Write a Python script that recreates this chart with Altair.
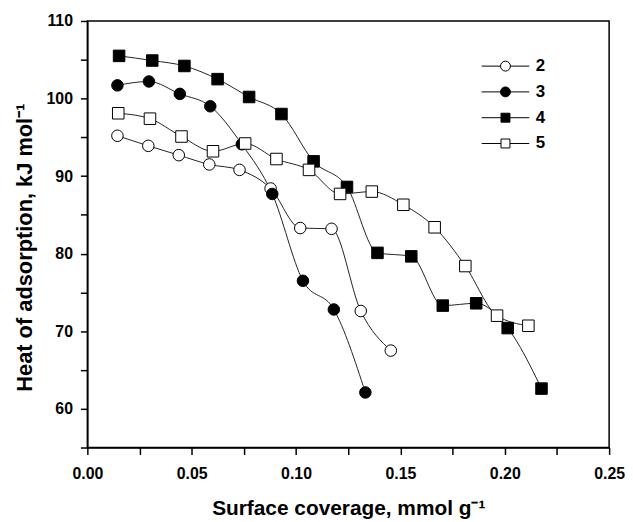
import altair as alt
import pandas as pd

# Series values
x2 = [0.0144, 0.0292, 0.0438, 0.0584, 0.0729, 0.0878, 0.1020, 0.1170, 0.1310, 0.1454]
y2 = [95.2, 93.9, 92.7, 91.5, 90.8, 88.4, 83.3, 83.2, 72.6, 67.5]

x3 = [0.0144, 0.0295, 0.0443, 0.0589, 0.0740, 0.0886, 0.1033, 0.1181, 0.1332]
y3 = [101.7, 102.2, 100.6, 99.0, 94.1, 87.7, 76.5, 72.8, 62.1]

x4 = [0.0152, 0.0311, 0.0465, 0.0624, 0.0775, 0.0930, 0.1084, 0.1244, 0.1390, 0.1552,
      0.1703, 0.1863, 0.2014, 0.2176]
y4 = [105.5, 104.9, 104.2, 102.5, 100.2, 98.0, 91.9, 88.6, 80.1, 79.65,
      73.3, 73.6, 70.4, 62.6]

x5 = [0.0148, 0.0300, 0.0451, 0.0602, 0.0756, 0.0906, 0.1062, 0.1211, 0.1363, 0.1514,
      0.1664, 0.1811, 0.1963, 0.2113]
y5 = [98.1, 97.4, 95.1, 93.2, 94.2, 92.2, 90.8, 87.7, 88.0, 86.3,
      83.4, 78.4, 72.0, 70.7]

series_names = ["2", "3", "4", "5"]
series_shapes = ["circle", "circle", "square", "square"]
series_fills = ["white", "black", "black", "white"]

x_ticks = [0.0, 0.025, 0.05, 0.075, 0.10, 0.125, 0.15, 0.175, 0.20, 0.225, 0.25]
y_ticks = [55, 60, 65, 70, 75, 80, 85, 90, 95, 100, 105, 110]

rows = []
for name, xs, ys in zip(series_names, [x2, x3, x4, x5], [y2, y3, y4, y5]):
    for i, (a, b) in enumerate(zip(xs, ys)):
        rows.append({"series": name, "x": a, "y": b, "order": i})
df = pd.DataFrame(rows)

FONT = "Liberation Sans"

x_enc = alt.X(
    "x:Q",
    scale=alt.Scale(domain=[0, 0.25], nice=False, zero=False),
    axis=alt.Axis(
        title="Surface coverage, mmol g\u207b\u00b9",
        values=x_ticks,
        labelExpr="round(datum.value*1000) % 50 == 0 ? format(datum.value, '.2f') : ''",
        grid=False,
        tickSize=7,
        labelPadding=11,
        labelFlush=False,
        titlePadding=17,
        titleFontSize=21,
    ),
)
y_enc = alt.Y(
    "y:Q",
    scale=alt.Scale(domain=[55, 110], nice=False, zero=False),
    axis=alt.Axis(
        title="Heat of adsorption, kJ mol\u207b\u00b9",
        values=y_ticks,
        labelExpr="datum.value % 10 == 0 && datum.value > 55 ? format(datum.value, 'd') : ''",
        grid=False,
        tickSize=7,
        labelPadding=8,
        labelFlush=False,
        titlePadding=10,
        titleFontSize=22,
        titleY=228,
    ),
)

lines = alt.Chart(df).mark_line(interpolate="monotone", color="#222222", strokeWidth=1).encode(
    x=x_enc, y=y_enc, detail="series:N", order="order:Q"
)

points = alt.Chart(df).mark_point(filled=True, stroke="black", strokeWidth=1, size=135, opacity=1).encode(
    x=x_enc,
    y=y_enc,
    shape=alt.Shape("series:N", scale=alt.Scale(domain=series_names, range=series_shapes), legend=None),
    fill=alt.Fill("series:N", scale=alt.Scale(domain=series_names, range=series_fills), legend=None),
)

circ = "M -1 0 A 1 1 0 1 0 1 0 A 1 1 0 1 0 -1 0 Z M -4.8 0 L -1 0 M 1 0 L 4.8 0"
sq = "M -0.9 -0.9 L 0.9 -0.9 L 0.9 0.9 L -0.9 0.9 Z M -4.8 0 L -0.9 0 M 0.9 0 L 4.8 0"

legend_def = dict(
    title=None,
    orient="none",
    legendX=413,
    legendY=37,
    symbolSize=100,
    symbolStrokeColor="black",
    symbolStrokeWidth=1,
    symbolOpacity=1,
    labelOffset=22,
    labelFont=FONT,
    labelFontSize=17,
    labelFontWeight="bold",
    labelColor="black",
    rowPadding=8,
    padding=0,
)

legend_layer = alt.Chart(df).transform_filter("false").mark_point(
    filled=True, strokeWidth=1, size=100, opacity=1
).encode(
    x=x_enc,
    y=y_enc,
    shape=alt.Shape("series:N", scale=alt.Scale(domain=series_names, range=[circ, circ, sq, sq]),
                    legend=alt.Legend(**legend_def)),
    fill=alt.Fill("series:N", scale=alt.Scale(domain=series_names, range=series_fills),
                  legend=alt.Legend(**legend_def)),
    stroke=alt.Stroke("series:N", scale=alt.Scale(domain=series_names, range=["black"] * 4),
                      legend=alt.Legend(**legend_def)),
)

chart = (
    alt.layer(lines, points, legend_layer)
    .resolve_scale(shape="independent", fill="independent", stroke="independent")
    .properties(
        width=526,
        height=430,
        autosize=alt.AutoSizeParams(type="none"),
        padding={"left": 80, "top": 11, "right": 16, "bottom": 73},
    )
    .configure_view(stroke="black", strokeWidth=1.5)
    .configure_axis(
        labelFont=FONT,
        titleFont=FONT,
        labelFontSize=16,
        labelFontWeight="bold",
        titleFontWeight="bold",
        labelColor="black",
        titleColor="black",
        domainColor="black",
        domainWidth=1.5,
        tickColor="black",
        tickWidth=1.5,
    )
)

chart.save("out.html", embed_options={"renderer": "svg", "actions": False})
